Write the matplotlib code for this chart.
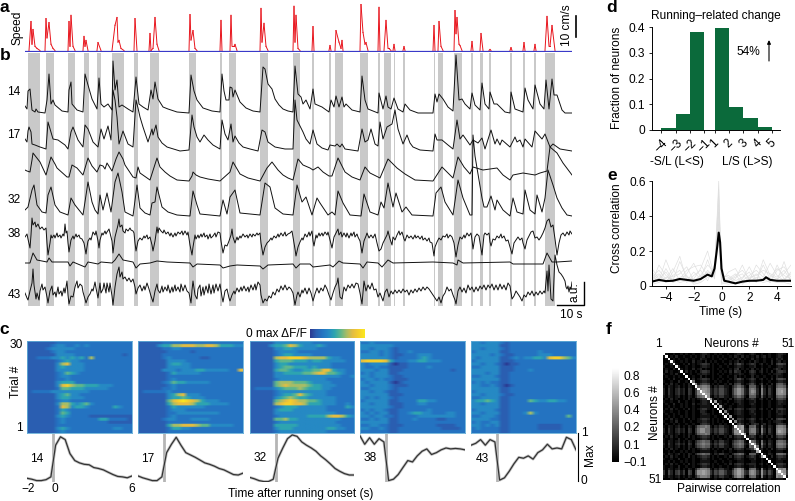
import numpy as np
import matplotlib
matplotlib.use('Agg')
import matplotlib.pyplot as plt
from matplotlib.colors import LinearSegmentedColormap

plt.rcParams['font.family'] = ['Liberation Sans', 'DejaVu Sans']
plt.rcParams['font.size'] = 8.6
plt.rcParams['axes.linewidth'] = 0.7

W, H = 795, 501

# running bouts, (first frame, last frame)
run_bouts = [(28, 40), (46, 54), (68, 75), (84, 89), (97, 101), (112, 124), (134, 138), (150, 159),
             (189, 196), (220, 222), (229, 236), (260, 268), (293, 300), (312, 314), (329, 331),
             (335, 343), (360, 368), (378, 380), (384, 391), (394, 395), (403, 405), (434, 435),
             (438, 443), (454, 462), (471, 473), (480, 483), (489, 491), (510, 512), (523, 525),
             (534, 536), (545, 555)]

# speed, (frame, cm/s)
speed = [(25, 0), (29, 0), (31, 13.8), (32, 3), (33, 10), (35, 2), (37, 1), (40, 0), (45, 0), (46, 15.2), (47, 6),
         (49, 13.3), (51, 3), (53, 1), (55, 0), (68, 0), (69, 13.8), (70, 2), (71, 16.7), (73, 2), (75, 0), (83, 0),
         (84, 6.7), (85, 2), (86, 4.8), (88, 0), (97, 0), (98, 3.8), (101, 0), (112, 0), (115, 12), (117, 15.7),
         (118, 4), (119, 4.8), (121, 1), (124, 0), (134, 0), (135, 15.2), (137, 0), (149, 0), (150, 8.1), (151, 0),
         (153, 1), (155, 15.7), (157, 3), (159, 0), (189, 0), (190, 17.1), (191, 5), (193, 9.5), (195, 1), (197, 0),
         (220, 0), (221, 14.3), (222, 0), (230, 0), (231, 16.7), (232, 2), (234, 2), (235, 2.9), (237, 0), (260, 0),
         (261, 20), (262, 4), (264, 12.9), (266, 2), (268, 0), (293, 0), (294, 21), (295, 4), (296, 16.7), (298, 1),
         (300, 0), (312, 0), (313, 11.4), (314, 0), (329, 0), (330, 2.4), (331, 0), (335, 0), (336, 9.5), (339, 4),
         (341, 1), (342, 4.8), (343, 0), (360, 0), (361, 21.9), (363, 8.6), (365, 3), (366, 3.8), (368, 0), (378, 0),
         (379, 20.5), (380, 0), (384, 0), (386, 14.3), (388, 1), (389, 1), (391, 0), (393, 0), (394, 2.9), (395, 0),
         (403, 0), (404, 1.9), (405, 0), (433, 0), (434, 11.9), (435, 0), (438, 0), (439, 13.8), (441, 2), (443, 0),
         (454, 0), (455, 19), (456, 8), (457, 15.7), (459, 3), (460, 2.4), (462, 0), (471, 0), (472, 4.3), (473, 0),
         (480, 0), (481, 8.1), (483, 0), (489, 0), (490, 0.5), (491, 0), (510, 0), (511, 1.4), (512, 0), (523, 0),
         (524, 3.8), (525, 0), (534, 0), (535, 2.9), (536, 0), (545, 0), (547, 16.2), (549, 2), (550, 2), (552, 11.9),
         (555, 0), (572, 0)]

# fluorescence traces, (frame, a.u. above the trace's own baseline)
trace_14 = [(25, 7), (27, 4), (28, 22), (30, 24), (32, 3), (35, 1), (36, 4), (38, 1), (45, 0), (47, 13), (49, 39),
            (51, 9), (53, 13), (55, 8), (62, 2), (68, 1), (69, 23), (71, 31), (72, 9), (77, 3), (83, 1), (85, 39),
            (88, 28), (92, 14), (97, 4), (99, 35), (101, 9), (104, 6), (108, 9), (112, 3), (113, 52), (115, 23),
            (117, 33), (119, 6), (122, 8), (128, 4), (133, 1), (136, 36), (139, 9), (143, 6), (148, 3), (151, 23),
            (153, 14), (155, 31), (158, 14), (163, 6), (168, 4), (177, 1), (189, 0), (191, 38), (194, 22), (197, 13),
            (203, 5), (212, 2), (220, 1), (222, 39), (224, 22), (226, 13), (229, 13), (230, 26), (232, 25), (233, 16),
            (235, 23), (240, 11), (246, 5), (253, 2), (260, 1), (263, 46), (265, 44), (268, 29), (272, 24), (275, 14),
            (279, 8), (283, 4), (288, 2), (293, 1), (295, 47), (298, 19), (301, 16), (303, 9), (306, 13), (310, 4),
            (313, 24), (315, 9), (322, 6), (329, 1), (331, 13), (334, 6), (336, 17), (339, 6), (342, 16), (344, 6),
            (346, 9), (352, 3), (360, 1), (362, 37), (365, 13), (368, 4), (378, 0), (379, 20), (383, 4), (386, 17),
            (388, 6), (391, 4), (394, 15), (398, 4), (403, 1), (405, 9), (410, 3), (418, 0), (433, 0), (435, 19),
            (437, 11), (439, 19), (443, 14), (448, 6), (453, 2), (456, 58), (459, 13), (462, 14), (465, 9), (470, 4),
            (472, 20), (475, 8), (480, 3), (482, 30), (485, 9), (489, 4), (490, 21), (494, 9), (497, 9), (505, 1),
            (510, 0), (511, 21), (515, 4), (523, 1), (525, 25), (528, 13), (533, 4), (535, 28), (540, 9), (544, 4),
            (546, 33), (549, 4), (552, 34), (554, 18), (557, 18), (562, 3), (565, 0), (572, 0)]
trace_17 = [(25, 12), (27, 9), (28, 20), (29, 24), (31, 19), (32, 7), (35, 6), (40, 4), (46, 2), (48, 29), (51, 19),
            (53, 12), (58, 11), (65, 6), (68, 2), (71, 19), (73, 24), (78, 11), (83, 4), (85, 26), (88, 22), (93, 9),
            (98, 4), (101, 22), (104, 12), (108, 25), (111, 11), (113, 61), (115, 51), (117, 34), (119, 7), (123, 20),
            (128, 7), (133, 4), (136, 51), (138, 43), (140, 34), (143, 24), (148, 9), (152, 22), (153, 16), (156, 26),
            (158, 14), (162, 8), (167, 4), (180, 0), (189, 1), (192, 36), (194, 24), (197, 14), (200, 9), (204, 16),
            (208, 11), (213, 6), (220, 2), (222, 31), (225, 17), (228, 11), (231, 27), (233, 9), (235, 15), (239, 8),
            (243, 4), (250, 2), (258, 0), (262, 21), (265, 19), (268, 9), (275, 4), (285, 2), (293, 2), (295, 51),
            (297, 31), (300, 25), (303, 19), (306, 12), (310, 7), (313, 21), (317, 7), (322, 3), (328, 1), (330, 6),
            (335, 5), (337, 7), (340, 4), (342, 7), (345, 2), (358, 0), (362, 22), (365, 9), (368, 11), (371, 22),
            (375, 7), (378, 5), (380, 29), (383, 12), (387, 24), (392, 27), (395, 41), (398, 22), (403, 7), (407, 16),
            (410, 8), (413, 4), (420, 1), (433, 0), (435, 17), (437, 11), (442, 11), (448, 6), (453, 2), (457, 31),
            (460, 12), (463, 16), (470, 6), (473, 11), (478, 8), (482, 13), (485, 2), (491, 21), (495, 7), (497, 12),
            (500, 6), (502, 11), (510, 4), (515, 14), (517, 9), (520, 11), (523, 4), (525, 12), (532, 4), (535, 20),
            (542, 12), (545, 17), (550, 4), (553, 7), (560, 2), (572, 0)]
trace_22 = [(25, 11), (27, 10), (30, 9), (32, 21), (33, 28), (40, 19), (46, 6), (51, 24), (55, 17), (57, 13), (67, 4),
            (69, 4), (72, 16), (77, 13), (83, 6), (88, 23), (92, 15), (97, 9), (100, 16), (103, 15), (105, 12),
            (107, 18), (112, 10), (116, 22), (119, 29), (123, 22), (125, 16), (133, 4), (136, 3), (138, 14), (140, 8),
            (150, 1), (157, 23), (160, 14), (165, 9), (170, 5), (177, 1), (189, 0), (192, 5), (193, 9), (196, 6),
            (200, 4), (208, 2), (220, 0), (230, 9), (233, 19), (240, 7), (248, 3), (260, 0), (267, 13), (272, 19),
            (278, 11), (283, 6), (288, 3), (293, 1), (298, 22), (303, 16), (310, 13), (313, 11), (318, 14), (323, 9),
            (329, 5), (332, 5), (338, 23), (345, 9), (352, 4), (360, 1), (365, 14), (370, 8), (380, 3), (388, 22),
            (397, 13), (405, 7), (415, 1), (433, 0), (442, 14), (447, 9), (453, 3), (458, 24), (464, 14), (470, 7),
            (473, 14), (483, 11), (497, 13), (503, 6), (510, 1), (513, 6), (523, 8), (535, 6), (540, 8), (547, 10),
            (550, 34), (557, 28), (563, 18), (572, 6)]
trace_32 = [(25, 6), (28, 9), (32, 26), (34, 31), (37, 11), (42, 4), (46, 3), (48, 21), (51, 29), (55, 11), (60, 4),
            (68, 1), (71, 18), (75, 11), (83, 1), (88, 34), (92, 14), (95, 6), (98, 2), (100, 21), (103, 6), (107, 23),
            (111, 4), (115, 34), (118, 43), (122, 24), (125, 4), (133, 0), (137, 31), (140, 8), (145, 3), (150, 1),
            (152, 13), (155, 14), (157, 29), (162, 9), (168, 4), (177, 1), (190, 0), (193, 25), (197, 11), (200, 2),
            (220, 0), (223, 16), (227, 2), (230, 19), (235, 26), (240, 3), (260, 1), (265, 33), (270, 29), (275, 8),
            (283, 2), (293, 1), (297, 31), (302, 14), (306, 19), (312, 1), (317, 18), (320, 13), (328, 1), (332, 4),
            (335, 1), (338, 25), (343, 13), (350, 1), (361, 0), (364, 22), (370, 4), (378, 1), (381, 14), (384, 8),
            (388, 33), (393, 9), (396, 23), (402, 4), (406, 9), (412, 1), (433, 0), (436, 23), (441, 29), (445, 14),
            (453, 1), (458, 36), (463, 18), (470, 1), (472, 1), (473, 81), (475, 60), (482, 18), (484, 9), (487, 9),
            (491, 20), (495, 6), (497, 16), (503, 6), (510, 0), (513, 18), (517, 4), (523, 2), (525, 26), (530, 6),
            (535, 2), (537, 21), (542, 4), (545, 18), (548, 46), (553, 31), (557, 18), (562, 8), (567, 1), (572, 0)]
trace_38 = [(25, 18), (27, 21), (28, 16), (30, 7), (31, 20), (32, 37), (33, 30), (35, 33), (36, 28), (38, 31), (40, 26),
            (42, 28), (44, 25), (46, 27), (47, 12), (48, 0), (50, 12), (51, 20), (52, 17), (54, 20), (55, 17), (57, 22),
            (58, 18), (60, 20), (61, 17), (63, 21), (64, 19), (65, 31), (66, 22), (67, 24), (68, 12), (69, 3), (71, 15),
            (73, 19), (74, 16), (76, 21), (77, 18), (79, 20), (80, 17), (82, 16), (84, 12), (86, 1), (87, 8), (88, 14),
            (90, 17), (91, 15), (93, 23), (95, 20), (96, 24), (97, 19), (98, 14), (99, 7), (100, 15), (102, 22),
            (103, 20), (105, 24), (106, 21), (107, 23), (109, 26), (110, 22), (112, 14), (113, 2), (115, 18), (117, 26),
            (118, 30), (119, 36), (120, 28), (122, 30), (123, 24), (125, 22), (126, 26), (128, 24), (130, 27), (131, 25),
            (133, 24), (134, 22), (135, 12), (136, 4), (138, 14), (140, 17), (142, 15), (144, 19), (145, 17), (147, 20),
            (148, 16), (150, 18), (152, 10), (153, 4), (155, 14), (157, 28), (158, 22), (159, 27), (161, 24), (163, 22),
            (164, 25), (166, 21), (168, 23), (170, 19), (171, 22), (173, 18), (175, 22), (176, 19), (178, 23), (180, 21),
            (182, 24), (183, 20), (185, 24), (187, 20), (188, 23), (190, 10), (192, 0), (193, 8), (195, 20), (196, 16),
            (198, 20), (199, 17), (201, 21), (202, 18), (204, 22), (205, 18), (207, 20), (208, 16), (210, 21), (211, 17),
            (213, 19), (215, 22), (216, 18), (218, 23), (220, 22), (221, 14), (223, 2), (225, 10), (227, 9), (229, 14),
            (231, 20), (232, 26), (233, 18), (235, 12), (237, 18), (238, 15), (240, 19), (241, 17), (243, 21), (245, 18),
            (247, 20), (248, 17), (250, 21), (252, 18), (253, 21), (255, 19), (257, 22), (258, 20), (260, 22), (261, 12),
            (263, 0), (265, 8), (267, 12), (269, 14), (271, 17), (272, 15), (274, 19), (276, 17), (278, 21), (279, 18),
            (281, 22), (283, 19), (285, 23), (286, 19), (288, 21), (290, 22), (292, 24), (293, 18), (295, 6), (296, -1),
            (298, 8), (300, 13), (302, 17), (303, 15), (305, 21), (307, 18), (309, 23), (310, 19), (312, 24), (313, 14),
            (314, 9), (316, 20), (317, 17), (319, 22), (320, 19), (322, 22), (323, 19), (325, 23), (327, 20), (328, 23),
            (330, 15), (332, 7), (334, 18), (336, 22), (338, 26), (339, 20), (341, 23), (342, 18), (344, 22), (346, 18),
            (347, 22), (349, 17), (351, 22), (352, 19), (354, 23), (355, 18), (357, 21), (358, 18), (360, 14), (362, 2),
            (364, 14), (366, 19), (367, 22), (369, 17), (371, 20), (373, 17), (375, 21), (377, 12), (379, 4), (381, 6),
            (383, 12), (385, 16), (387, 20), (388, 24), (390, 16), (392, 10), (393, 18), (395, 15), (397, 20), (399, 24),
            (400, 20), (402, 23), (404, 16), (405, 14), (407, 20), (409, 17), (411, 19), (413, 16), (415, 20), (416, 17),
            (418, 19), (420, 16), (422, 19), (423, 15), (425, 17), (427, 14), (429, 17), (430, 13), (432, 12), (434, -1),
            (435, 8), (437, 13), (439, 17), (441, 15), (443, 19), (445, 18), (447, 21), (448, 17), (450, 20), (452, 18),
            (454, 12), (456, -2), (458, 10), (460, 18), (462, 16), (464, 20), (465, 17), (467, 22), (469, 19), (471, 22),
            (472, 15), (473, 6), (475, 18), (477, 21), (479, 19), (481, 6), (482, 0), (484, 20), (485, 22), (487, 20),
            (489, 22), (490, 13), (491, 9), (493, 16), (495, 15), (497, 19), (499, 17), (501, 21), (502, 17), (504, 19),
            (506, 14), (508, 15), (510, 8), (512, 1), (514, 12), (516, 15), (518, 18), (520, 15), (522, 17), (523, 12),
            (525, 6), (527, 15), (529, 19), (531, 23), (533, 24), (535, 17), (537, 18), (539, 15), (541, 18), (543, 22),
            (545, 27), (547, 34), (549, 36), (551, 28), (553, 30), (555, 16), (557, 0), (559, 12), (561, 20), (563, 22),
            (565, 19), (567, 23), (569, 20), (570, 24), (572, 21)]
trace_thin = [(25, 2), (30, 2), (33, 12), (37, 5), (47, 3), (49, 7), (52, 3), (68, 3), (70, -1), (73, 3), (85, -2),
              (88, 3), (98, 1), (101, 3), (112, 2), (115, 5), (119, 11), (123, 5), (133, 3), (136, -3), (140, 1),
              (150, 2), (157, 4), (167, 3), (190, 2), (193, -2), (197, 1), (220, 0), (223, -3), (230, -1), (237, 0),
              (260, -1), (263, -4), (268, 0), (293, 1), (296, -3), (300, 1), (310, 1), (313, -2), (330, 0), (333, -2),
              (339, 4), (343, 2), (360, 1), (363, -3), (367, 3), (378, 2), (382, -2), (388, 5), (393, 2), (433, 3),
              (453, 2), (457, 0), (458, 5), (463, 2), (510, 3), (513, 1), (543, 1), (547, 12), (552, 3), (557, 3),
              (572, 4)]
trace_43 = [(25, 12), (27, 7), (28, 5), (30, 14), (32, 22), (33, 36), (34, 20), (36, 6), (37, 12), (39, 5), (40, 14),
            (42, 21), (43, 15), (45, 18), (47, 8), (48, 2), (50, 14), (52, 19), (53, 10), (55, 13), (56, 8), (58, 18),
            (59, 11), (61, 14), (62, 9), (64, 17), (65, 12), (67, 24), (68, 10), (69, 1), (71, 9), (73, 8), (75, 18),
            (77, 24), (78, 17), (80, 21), (82, 19), (83, 13), (85, 6), (86, 2), (88, 8), (90, 11), (92, 16), (93, 14),
            (95, 23), (96, 17), (98, 7), (100, 22), (101, 12), (103, 16), (104, 22), (106, 12), (107, 22), (109, 13),
            (110, 22), (112, 9), (113, 0), (115, 18), (117, 31), (119, 38), (120, 28), (122, 33), (123, 26), (125, 28),
            (127, 24), (129, 27), (131, 23), (133, 26), (135, 18), (136, 11), (138, 17), (140, 20), (142, 14), (144, 19),
            (145, 15), (147, 22), (149, 16), (151, 9), (153, 3), (155, 14), (157, 21), (158, 15), (160, 12), (162, 19),
            (163, 13), (165, 18), (167, 14), (168, 20), (170, 12), (172, 18), (173, 13), (175, 20), (176, 14), (178, 18),
            (180, 13), (181, 21), (183, 14), (185, 20), (187, 14), (189, 12), (191, 2), (192, 15), (193, 24), (195, 10),
            (197, 6), (198, 16), (200, 20), (201, 9), (203, 18), (204, 10), (206, 19), (208, 12), (209, 21), (211, 11),
            (213, 20), (214, 12), (216, 21), (218, 14), (220, 21), (222, 8), (223, 3), (225, 14), (227, 16), (229, 7),
            (230, 4), (232, 10), (234, 14), (235, 11), (237, 17), (239, 13), (241, 18), (242, 14), (244, 19), (246, 14),
            (248, 18), (249, 13), (251, 20), (253, 15), (255, 21), (256, 15), (258, 23), (260, 20), (261, 10), (263, 2),
            (265, 6), (267, 4), (269, 9), (271, 7), (273, 13), (275, 10), (277, 16), (279, 13), (281, 19), (283, 15),
            (285, 20), (287, 15), (289, 18), (291, 16), (293, 12), (295, 0), (297, 10), (298, 13), (300, 8), (302, 15),
            (303, 12), (305, 17), (307, 11), (309, 17), (311, 12), (313, 4), (315, 11), (317, 17), (319, 12), (321, 17),
            (323, 14), (325, 20), (327, 16), (329, 10), (331, 5), (333, 12), (335, 18), (337, 22), (338, 27), (340, 8),
            (342, 6), (344, 18), (346, 14), (348, 20), (350, 17), (352, 21), (354, 17), (356, 22), (358, 21), (360, 12),
            (362, 1), (364, 24), (366, 14), (368, 20), (370, 16), (372, 22), (374, 15), (376, 16), (378, 8), (380, 12),
            (383, 4), (385, 13), (387, 16), (389, 8), (391, 14), (393, 11), (395, 15), (397, 12), (399, 15), (401, 12),
            (403, 16), (405, 13), (407, 15), (409, 10), (411, 15), (413, 12), (415, 16), (417, 13), (419, 17), (421, 14),
            (423, 18), (425, 15), (427, 18), (429, 16), (431, 13), (433, 10), (435, 7), (437, 4), (439, 8), (441, 2),
            (443, 9), (445, 12), (447, 18), (449, 14), (451, 16), (453, 10), (455, 5), (456, 1), (458, 14), (460, 18),
            (462, 13), (464, 17), (466, 12), (468, 20), (470, 15), (472, 18), (474, 13), (476, 18), (478, 14), (480, 19),
            (482, 16), (484, 20), (486, 15), (488, 20), (490, 17), (492, 21), (494, 15), (496, 20), (498, 15), (500, 21),
            (502, 16), (504, 20), (506, 15), (508, 22), (510, 19), (512, 6), (514, 9), (516, 14), (518, 11), (520, 8),
            (522, 4), (524, 10), (526, 8), (528, 13), (530, 10), (532, 14), (534, 9), (536, 13), (538, 10), (540, 14),
            (542, 11), (544, 14), (545, 12), (547, 34), (548, 14), (549, 40), (551, 6), (553, 4), (555, 50), (557, 40),
            (559, 33), (561, 31), (563, 28), (565, 24), (566, 18), (567, 16), (568, 19), (569, 13), (570, 18), (571, 16),
            (572, 23)]

trace_baselines = [193, 155, 125, 90, 51, 41, 1]

# trial by frame activity, one string per trial, digit = colour level
heat_14 = ["1111112222222222222222", "1111123322323222222222", "1111233333222222222222", "1111123322222222222222",
           "1111113333222222222212", "1122233434342622222222", "1111112343322222222222", "1111113673332222222222",
           "1111113433332222222222", "1111113333332222222222", "1111112354322222222222", "1111112332222222222222",
           "1111112232222222222222", "1111113444222222222222", "1111113786554443332222", "1111112554443333322222",
           "1222233333333222222222", "1111113453322222222222", "1111113443332222222222", "1111112332222222222222",
           "1111113664345322222222", "1111112763443222224322", "1111112432222222222222", "1111112542222222222222",
           "1111113432222111111111", "1111112322222224422221", "1111112322222222211111", "1111112222222222222222",
           "1111113432222222223322", "1111112322222222222222"]
heat_17 = ["1111122222222222222222", "1111344667776677644433", "1111122332222222222222", "1111112222212222222222",
           "1111122222222222222222", "1111123222222112222222", "1111113333222222222222", "1111113443322222222222",
           "1111113333322222222222", "1111133323334433333227", "1111112433333222222222", "1111112222222222222222",
           "1111112322222222222222", "1111123544333332222222", "1111112322222222222222", "1111122322222222222222",
           "1222223222222222222222", "1111113467333222222222", "1111113445433322222222", "1111115789876433322222",
           "1111114677764443333222", "1111112433333322222222", "1111112333222222222222", "1111112233333333322222",
           "1111112322222222222222", "1111123322233332222222", "1111112222222222222222", "1111114667776553333322",
           "1111112443322222222222", "1111112222222222222222"]
heat_32 = ["1111133333333222222222", "1111344576433343222222", "1111133443333322222222", "1111123333222222222222",
           "1111123443333222222222", "1111167788876666433222", "1111145554443443333322", "1111134433333333322222",
           "1111134554443433322222", "1111145543344557743322", "1111133444455677554322", "1111133333333333333223",
           "1111123333333333222222", "1111156665554333322222", "1111156766665443332222", "1222234555654443322222",
           "1111123333333333222222", "1111123445754333222222", "1111134565443333332222", "1111156787665543332222",
           "1111167887764443332232", "1111123444333333222243", "1111134443333333222222", "1111133333333333332222",
           "1111123333334444677643", "1111155644333333333222", "1111123333333333332222", "1111144444333333333222",
           "1111134443333333443322", "1111123333333333222222"]
heat_38 = ["2232222222222222222222", "3333333222222222222222", "3323332122222222222222", "2233232122322222222222",
           "3333232112223332222222", "3333332122223432222222", "7888874222334433322222", "3233331011222222222222",
           "3223221111222232222222", "3332331112222222222122", "2323331122222222222222", "3323332112222222222222",
           "2332322111222222222222", "3233331012222222222222", "3323332111222222222222", "2233332122222222222222",
           "3323321122222222222222", "3333331112222222222222", "3232332122222222222222", "2333331122224433222222",
           "3323331112223322222222", "3333332112222222222222", "2323321122222232222222", "3232331122344332223322",
           "3323322122223333333322", "2232331122232222112222", "3333331122222222222222", "2233221112222222111122",
           "3322321122222222211112", "2222221122222222222222"]
heat_43 = ["3323332122222222222222", "3333331122222222222222", "3323332122222222222222", "2333331122222232222222",
           "3333232112222233322222", "3233331123233443788653", "2333331112222222222222", "3323321011222222222222",
           "2233331112222222222222", "3333331112223222222222", "3332331122222222222222", "2233321122222222222222",
           "3333331122222222222222", "2323221122222222222222", "3322321012222222222222", "3333331122222222222222",
           "2333331122222222222222", "3323332112222222222222", "2233331122222222222222", "3445431122225433443322",
           "3323331122222222222222", "3333331122222222222222", "2333321122222222222222", "3323331122236322222222",
           "2233321122222222222252", "3333221122222222222222", "2322331122222222222222", "3323231122222211111222",
           "2322221122222211111222", "2222221122222222222222"]
heat_panels = [heat_14, heat_17, heat_32, heat_38, heat_43]

# mean response for the same neurons, normalised to max
onset_time = [-2, -1.64, -1.27, -0.91, -0.55, -0.18, 0.18, 0.55, 0.91, 1.27, 1.64, 2, 2.36, 2.73, 3.09, 3.45, 3.82,
              4.18, 4.55, 4.91, 5.27, 5.64, 6]
resp_14 = [.07, .05, .02, .02, .04, .10, .78, .96, .90, .60, .45, .40, .37, .36, .30, .28, .25, .20, .15, .11, .10, .08, .12]
resp_17 = [.12, .08, .05, .02, .02, .10, .62, .80, .95, .78, .62, .57, .52, .46, .40, .37, .33, .28, .25, .20, .15, .14, .18]
resp_32 = [.09, .06, .02, .0, .0, .05, .50, .72, .92, 1.0, .97, .85, .78, .72, .65, .55, .47, .38, .28, .22, .17, .14, .14]
resp_38 = [.98, .80, .94, .80, .92, .85, .02, .05, .15, .30, .45, .42, .55, .65, .70, .58, .62, .68, .72, .70, .71, .70, .68]
resp_43 = [.78, .82, .90, .78, .90, .85, .03, .08, .22, .38, .52, .50, .55, .48, .62, .68, .80, .70, .72, .70, .95, .90, .68]
resp_panels = [resp_14, resp_17, resp_32, resp_38, resp_43]

# running related change histogram
bin_edges = [0, 1, 2, 3, 3.7, 4.7, 5.7, 6.7, 7.7]
bin_ticks = ['\u22124', '\u22123', '\u22122', '\u22121', '1', '2', '3', '4', '5']
bin_left = [0, 1, 2, 3.7, 4.7, 5.7, 6.7]
bin_frac = [0.007, 0.063, 0.38, 0.395, 0.09, 0.048, 0.01]

# cross correlation
lag_mean = [-5, -4.5, -4, -3.5, -3, -2.5, -2, -1.5, -1, -0.7, -0.5, -0.3, -0.2, -0.1, 0, 0.2, 0.5, 1, 1.5, 2, 2.5, 3,
            3.2, 3.5, 4, 4.5, 5]
xcorr_mean = [.025, .035, .028, .03, .04, .035, .03, .04, .065, .055, .10, .23, .305, .25, .10, .03, .025, .015, .025,
              .03, .03, .035, .05, .035, .03, .03, .03]
lag_cells = [-5, -4.5, -4, -3.5, -3, -2.5, -2, -1.5, -1, -0.5, -0.2, 0, 0.5, 1, 1.5, 2, 2.5, 3, 3.5, 4, 4.5, 5]
xcorr_cells = [
    [.05, .09, .04, .10, .03, .07, .13, .05, .08, .07, .60, .05, .03, .06, .09, .04, .07, .03, .05, .10, .06, .04],
    [.02, .12, .06, .03, .14, .05, .04, .10, .20, .05, .50, .06, .05, .02, .04, .11, .03, .12, .04, .03, .14, .02],
    [.08, .03, .15, .05, .07, .11, .03, .06, .12, .08, .45, .03, .08, .10, .03, .06, .09, .05, .13, .06, .03, .08],
    [.03, .06, .02, .08, .17, .03, .08, .04, .15, .04, .38, .04, .02, .04, .12, .03, .12, .07, .02, .09, .11, .05],
    [.10, .04, .08, .02, .04, .09, .11, .12, .06, .10, .55, .05, .06, .03, .05, .08, .02, .15, .06, .04, .07, .12],
    [.01, .02, .05, .04, .02, .03, .02, .03, .09, .05, .30, .02, .01, .02, .02, .03, .04, .02, .03, .02, .02, .01],
    [.04, .07, .03, .06, .09, .02, .06, .09, .03, .12, .42, .04, .04, .07, .01, .05, .06, .09, .07, .05, .09, .03],
    [.06, .02, .10, .03, .05, .06, .01, .02, .05, .06, .35, .01, .03, .05, .07, .02, .05, .04, .02, .12, .04, .07],
]

# pairwise correlation, one string per neuron, digit = colour level
corr_rows = [
    "010010010100100122100101001001221001210010010012210",
    "100102001001010120101010100102102010102012010012100",
    "010010100100100211001001010010120100201001001021200",
    "001020010100201102010100100101201001021001002012010",
    "010201001020101233201010010202442012320120102034430",
    "100100200100100122101001001001221001120010010012210",
    "010020010100201201001010100102301010201020100132010",
    "020100100201010233201001010203220102320120102023320",
    "100102001001001122101010100101121001210010010122100",
    "010010100400100201001001001002010100201001001021100",
    "001020010050201233201010100102442012320120102034430",
    "100100200100600122100101001001221001210010010012210",
    "010201001020171344301010010203441013420130102045530",
    "102101201021025677610213311024664105551051021056651",
    "203102312032037788721324421036886216762072031078872",
    "203102312032037898721324421036886216872072031078972",
    "203102312032037889821324421036886216762072031078872",
    "102101201021025677810213311024664105551051021056651",
    "010201001020101233481010010202332012320120102034430",
    "100100200100100122101901001001221001120010010012210",
    "010020010100201122100191010010121001210010010012110",
    "001010010100100111100109100100111000110010010011100",
    "010201001020101233101011801202332012220120102023320",
    "100100100100100221001001071001221001210010010021210",
    "010010100100100122101001017001221001120010010012210",
    "001010010100100111100100100900111000110010010011100",
    "010201001020101233201010010180332012320120102034430",
    "100102001001001122101010100107121001210010010122100",
    "010010100100100233201001010010342010232012010023320",
    "102101201021025667610213311026789105561051021067761",
    "203102312032036886621324421037889216772072031078872",
    "203102312032036886621324421038898216772072031079872",
    "102101201021025667610213311027889905561051021067761",
    "010201001020101233201010010202332912320120102034430",
    "100100200100100122101001001001221091120010010012210",
    "102101201021024565510213311024565108651061021056651",
    "203102312032035676621324421035676217992072031067762",
    "102101201021024565510213311024565106586051021056651",
    "010201001020101233201010010202332012392120102023320",
    "001010010100100111100100100100111000119010010011100",
    "102101201021024565510213311024565105551091021056651",
    "010201001020101233201010010202332012320191102023320",
    "100100200100100122101001001001221001120010910012110",
    "001010010100100111100100100100111000110010090011100",
    "010201001020101233201010010202332012220120109023320",
    "100100200100100122101001001001221001120010010912210",
    "102101201021025777610213311026886105661071021088781",
    "304203413043048898731435531147997327873183142099983",
    "304203413043048898731435531147997327873183142089993",
    "102101201021025777610213311026886105661071021087891",
    "000100100100100111100100100100111000110010010011109",
]
corr_ticks = ['\u22120.1', '0.1', '0.2', '0.4', '0.6', '0.8']


def to_grid(rows, width):
    return np.array([[int(c) for c in r.ljust(width, '0')[:width]] for r in rows], dtype=float)


def px_axes(x0, y0, x1, y1):
    return fig.add_axes([x0 / W, 1 - y1 / H, (x1 - x0) / W, (y1 - y0) / H])


def draw_trace(ax, points, base, lw=0.7, color='#111111'):
    pts = np.array(points, dtype=float)
    ax.plot(pts[:, 0], pts[:, 1] + base, color=color, lw=lw, solid_joinstyle='round')


parula = LinearSegmentedColormap.from_list('parula_like', [
    '#2b3a92', '#2a5fb2', '#2474c2', '#2689c4', '#2ea5b0', '#5fb68c', '#a8bd66', '#e3bd43', '#f6cf2c', '#fbe81f'])

fig = plt.figure(figsize=(W / 100, H / 100), dpi=100)

# a: speed, red only while running, the resting line is blue
ax_a = px_axes(25, 4, 572, 52)
sp = np.array(speed)
for i in range(len(sp) - 1):
    if sp[i, 1] > 0 or sp[i + 1, 1] > 0:
        ax_a.plot(sp[i:i + 2, 0], sp[i:i + 2, 1], color='#e8141c', lw=0.7)
ax_a.plot([sp[0, 0], sp[-1, 0]], [0, 0], color='#3a3ac8', lw=0.9, zorder=3)
ax_a.set_xlim(25, 572)
ax_a.set_ylim(-0.7, 22.1)
ax_a.axis('off')

# b: traces with running bouts behind
ax_b = px_axes(25, 53, 572, 306)
for start, stop in run_bouts:
    ax_b.axvspan(start, stop, color='#c9c9c9', lw=0)
traces = [trace_14, trace_17, trace_22, trace_32, trace_38, trace_thin, trace_43]
for tr, base in zip(traces, trace_baselines):
    draw_trace(ax_b, tr, base)
ax_b.set_xlim(25, 572)
ax_b.set_ylim(0, 253)
ax_b.axis('off')

# c: heat maps and mean responses
heat_x = [(27, 132), (138, 243), (249.5, 354), (360, 465), (471, 576)]
for (x0, x1), rows, resp in zip(heat_x, heat_panels, resp_panels):
    ax = px_axes(x0, 341, x1, 433)
    # rows repeated so the smoothing only acts along time, trials stay sharp
    ax.imshow(np.repeat(to_grid(rows, 22), 6, axis=0), cmap=parula, vmin=0, vmax=9, aspect='auto',
              interpolation='bilinear', extent=[-2, 6, 1, 30])
    ax.set_xticks([])
    ax.set_yticks([])
    for s in ax.spines.values():
        s.set_color('#62acd6')
        s.set_linewidth(0.6)

    ax2 = px_axes(x0, 434, x1, 482)
    ax2.axvline(0, color='#b5b5b5', lw=2.0)
    ax2.plot(onset_time, resp, color='#c4c4c4', lw=2.0)
    ax2.plot(onset_time, resp, color='#333333', lw=0.9)
    ax2.set_xlim(-2, 6)
    ax2.set_ylim(-0.01, 1.02)
    ax2.axis('off')

# d: histogram
ax_d = px_axes(652, 27, 780, 130)
ax_d.bar(bin_left, bin_frac, width=1, align='edge', color='#0b6a3b', lw=0)
ax_d.set_xlim(-0.65, 8.25)
ax_d.set_ylim(0, 0.4)
ax_d.set_yticks([0, 0.1, 0.2, 0.3, 0.4])
ax_d.set_yticklabels(['0', '0.1', '0.2', '0.3', '0.4'])
ax_d.set_xticks(bin_edges)
ax_d.set_xticklabels(bin_ticks, rotation=45)
ax_d.tick_params(length=2, width=0.6, pad=3)
ax_d.spines[['top', 'right']].set_visible(False)

# e: cross correlation
ax_e = px_axes(652, 181, 791, 286)
for cell in xcorr_cells:
    ax_e.plot(lag_cells, cell, color='#dedede', lw=0.45)
ax_e.plot(lag_mean, xcorr_mean, color='black', lw=1.5)
ax_e.set_xlim(-5, 5)
ax_e.set_ylim(0, 0.6)
ax_e.set_xticks([-4, -2, 0, 2, 4])
ax_e.set_xticklabels(['\u22124', '\u22122', '0', '2', '4'])
ax_e.set_yticks([0, 0.2, 0.4, 0.6])
ax_e.set_yticklabels(['0', '0.2', '0.4', '0.6'])
ax_e.tick_params(length=2, width=0.6, pad=2)
ax_e.spines[['top', 'right']].set_visible(False)

# f: correlation matrix
ax_f = px_axes(663, 353, 788, 480)
corr = to_grid(corr_rows, 51)
np.fill_diagonal(corr, 14)
ax_f.imshow(corr, cmap='gray', vmin=0, vmax=14, aspect='auto', interpolation='nearest')
ax_f.axis('off')

ax_cb = px_axes(612, 368, 619, 462)
ax_cb.imshow(np.linspace(1, 0, 100)[:, None], cmap='gray', aspect='auto', vmin=0, vmax=1, extent=[0, 1, -0.05, 5.45])
ax_cb.set_xticks([])
ax_cb.yaxis.tick_right()
ax_cb.set_yticks(range(6))
ax_cb.set_yticklabels(corr_ticks)
ax_cb.tick_params(length=0, pad=3)
for s in ax_cb.spines.values():
    s.set_visible(False)

# colour key for c
ax_key = px_axes(310, 329, 365, 338)
ax_key.imshow(np.linspace(0, 9, 100)[None, :], cmap=parula, aspect='auto', vmin=0, vmax=9)
ax_key.axis('off')

# page level text and scale bars
ov = fig.add_axes([0, 0, 1, 1], facecolor='none')
ov.set_xlim(0, W)
ov.set_ylim(H, 0)
ov.axis('off')


def label(x, y, s, **kw):
    kw.setdefault('ha', 'center')
    kw.setdefault('va', 'center')
    ov.text(x, y, s, **kw)


for x, y, s in [(4, 7, 'a'), (5, 55, 'b'), (4, 330, 'c'), (612, 7, 'd'), (612, 175, 'e'), (609, 329, 'f')]:
    label(x, y, s, fontsize=12.5, fontweight='bold')

label(18, 28, 'Speed', rotation=90)
label(567, 25, '10 cm/s', rotation=90)
ov.plot([576, 576], [16, 37], color='black', lw=1.2)
for y, s in [(92, '14'), (135, '17'), (200, '32'), (234, '38'), (295, '43')]:
    label(14, y, s)
ov.plot([557, 584, 584], [305, 305, 282], color='black', lw=1.0)
label(575, 292, 'a.u.', rotation=90)
label(571, 315, '10 s')

label(16, 382, 'Trial #', rotation=90)
label(16, 345, '30')
label(19, 428, '1')
label(276, 334, '0 max \u0394F/F')
for x, y, s in [(37, 459, '14'), (148, 459, '17'), (260, 458, '32'), (370, 458, '38'), (482, 459, '43')]:
    label(x, y, s)
label(28, 489, '\u22122')
label(55, 489, '0')
label(132, 489, '6')
label(301, 494, 'Time after running onset (s)')
ov.plot([578, 578], [433, 481], color='black', lw=0.8)
label(584, 433, '1')
label(584, 481, '0')
label(590, 455, 'Max', rotation=90)

label(716, 16, 'Running\u2013related change')
label(617, 78, 'Fraction of neurons', rotation=90)
label(748, 52, '54%')
ov.annotate('', xy=(769, 40), xytext=(769, 61), arrowprops=dict(arrowstyle='-|>,head_width=0.12,head_length=0.25',
                                                                color='black', lw=0.8, shrinkA=0, shrinkB=0))
label(677, 162, '-S/L (L<S)')
label(747, 162, 'L/S (L>S)')

label(617, 228, 'Cross correlation', rotation=90)
label(721, 312, 'Time (s)')

label(658, 344, '1')
label(731, 344, 'Neurons #')
label(788, 344, '51')
label(655, 413, 'Neurons #', rotation=90)
label(655, 480, '51')
label(729, 489, 'Pairwise correlation')

fig.savefig('out.png', dpi=100)
